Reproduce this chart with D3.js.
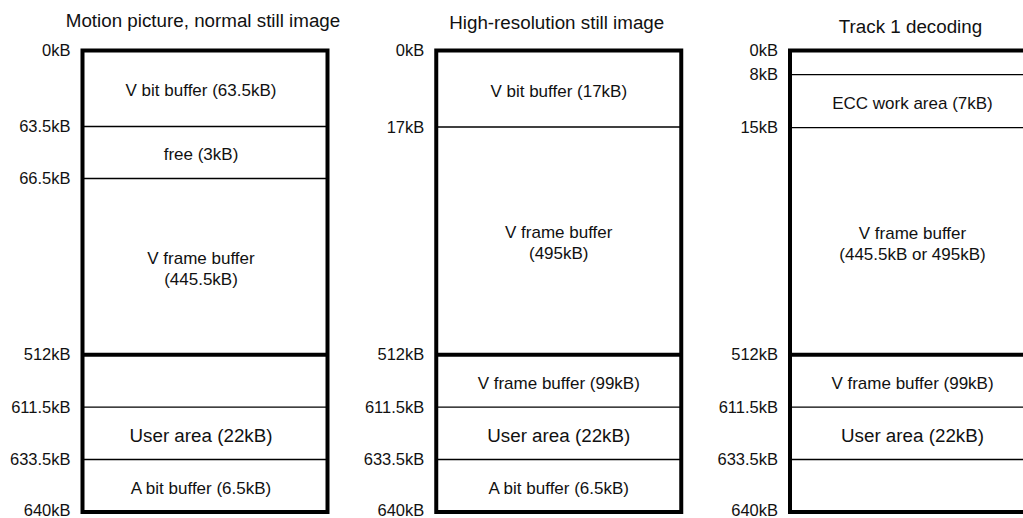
<!DOCTYPE html>
<html>
<head>
<meta charset="utf-8">
<script src="https://cdn.jsdelivr.net/npm/d3@7"></script>
<style>
  html, body { margin: 0; padding: 0; background: #fff; }
  svg { display: block; font-family: "Liberation Sans", Arial, Helvetica, sans-serif; }
</style>
</head>
<body>
<svg id="chart" width="1023" height="518"></svg>
<script>
// ---------------- DATA ----------------
const panelTitles = [
  "Motion picture, normal still image",
  "High-resolution still image",
  "Track 1 decoding"
];

// memory-map boundaries (kB) per panel
const boundariesMotion = [0, 63.5, 66.5, 512, 611.5, 633.5, 640];
const boundariesHiRes  = [0, 17, 512, 611.5, 633.5, 640];
const boundariesTrack1 = [0, 8, 15, 512, 611.5, 633.5, 640];

// region labels (one entry per region between boundaries; lines of text)
const regionsMotion = [
  ["V bit buffer (63.5kB)"],
  ["free (3kB)"],
  ["V frame buffer", "(445.5kB)"],
  [],
  ["User area (22kB)"],
  ["A bit buffer (6.5kB)"]
];
const regionsHiRes = [
  ["V bit buffer (17kB)"],
  ["V frame buffer", "(495kB)"],
  ["V frame buffer (99kB)"],
  ["User area (22kB)"],
  ["A bit buffer (6.5kB)"]
];
const regionsTrack1 = [
  [],
  ["ECC work area (7kB)"],
  ["V frame buffer", "(445.5kB or 495kB)"],
  ["V frame buffer (99kB)"],
  ["User area (22kB)"],
  []
];

const bankBoundaryKB = 512;          // boundary drawn as a heavy rule
const tickUnit = "kB";

// ---------------- LAYOUT (schematic, not to scale) ----------------
const slotsMotion = [0, 1.45, 2.44, 5.8, 6.8, 7.8, 8.8];
const slotsHiRes  = [0, 1.46, 5.8, 6.8, 7.8, 8.8];
const slotsTrack1 = [0, 0.46, 1.47, 5.8, 6.8, 7.8, 8.8];
const titleBaselines = [27, 29, 33];

const panels = [
  { title: panelTitles[0], bounds: boundariesMotion, regions: regionsMotion, slots: slotsMotion },
  { title: panelTitles[1], bounds: boundariesHiRes,  regions: regionsHiRes,  slots: slotsHiRes },
  { title: panelTitles[2], bounds: boundariesTrack1, regions: regionsTrack1, slots: slotsTrack1 }
];

const svg = d3.select("#chart");
const boxW = 245;
const xPanel = d3.scalePoint().domain(panelTitles).range([82.5, 790]);
const yRow = d3.scaleLinear().domain([0, 8.8]).range([50.5, 512]);

panels.forEach((p, i) => {
  const x0 = xPanel(p.title);
  const x1 = x0 + boxW;
  const cx = x0 + boxW / 2;
  const y = d3.scaleLinear().domain(p.bounds).range(p.slots.map(s => yRow(s)));
  const g = svg.append("g");

  // title
  g.append("text")
    .attr("x", cx - 2)
    .attr("y", titleBaselines[i])
    .attr("text-anchor", "middle")
    .attr("font-size", 18.8)
    .attr("fill", "#111")
    .text(p.title);

  // interior boundary lines
  const inner = p.bounds.slice(1, -1);
  g.selectAll("line.b").data(inner).join("line")
    .attr("class", "b")
    .attr("x1", x0).attr("x2", x1)
    .attr("y1", d => y(d)).attr("y2", d => y(d))
    .attr("stroke", "#000")
    .attr("stroke-width", d => d === bankBoundaryKB ? 4 : 1.4);

  // outer frame
  const top = y(p.bounds[0]), bot = y(p.bounds[p.bounds.length - 1]);
  g.append("rect")
    .attr("x", x0).attr("y", top)
    .attr("width", boxW).attr("height", bot - top)
    .attr("fill", "none")
    .attr("stroke", "#000")
    .attr("stroke-width", 4);

  // axis labels
  const last = p.bounds[p.bounds.length - 1];
  const axis = d3.axisLeft(y)
    .tickValues(p.bounds)
    .tickFormat(d => d + tickUnit)
    .tickSize(0)
    .tickPadding(12);
  const ax = g.append("g").attr("transform", `translate(${x0},0)`).call(axis);
  ax.select(".domain").remove();
  ax.selectAll(".tick text")
    .attr("font-size", 16.5)
    .attr("font-family", "'Liberation Sans', Arial, Helvetica, sans-serif")
    .attr("fill", "#111")
    .attr("dy", d => d === last ? "0.2em" : "0.32em");

  // region labels
  p.regions.forEach((lines, k) => {
    if (!lines.length) return;
    const yc = (y(p.bounds[k]) + y(p.bounds[k + 1])) / 2 + 2;
    const big = lines[0].startsWith("User area");
    const fs = big ? 18.8 : 17;
    const lh = 21;
    const t = g.append("text")
      .attr("text-anchor", "middle")
      .attr("font-size", fs)
      .attr("fill", "#111");
    lines.forEach((ln, j) => {
      t.append("tspan")
        .attr("x", cx - (i === 0 ? 4 : 0))
        .attr("y", yc + (j - (lines.length - 1) / 2) * lh)
        .attr("dy", "0.35em")
        .text(ln);
    });
  });
});
</script>
</body>
</html>
